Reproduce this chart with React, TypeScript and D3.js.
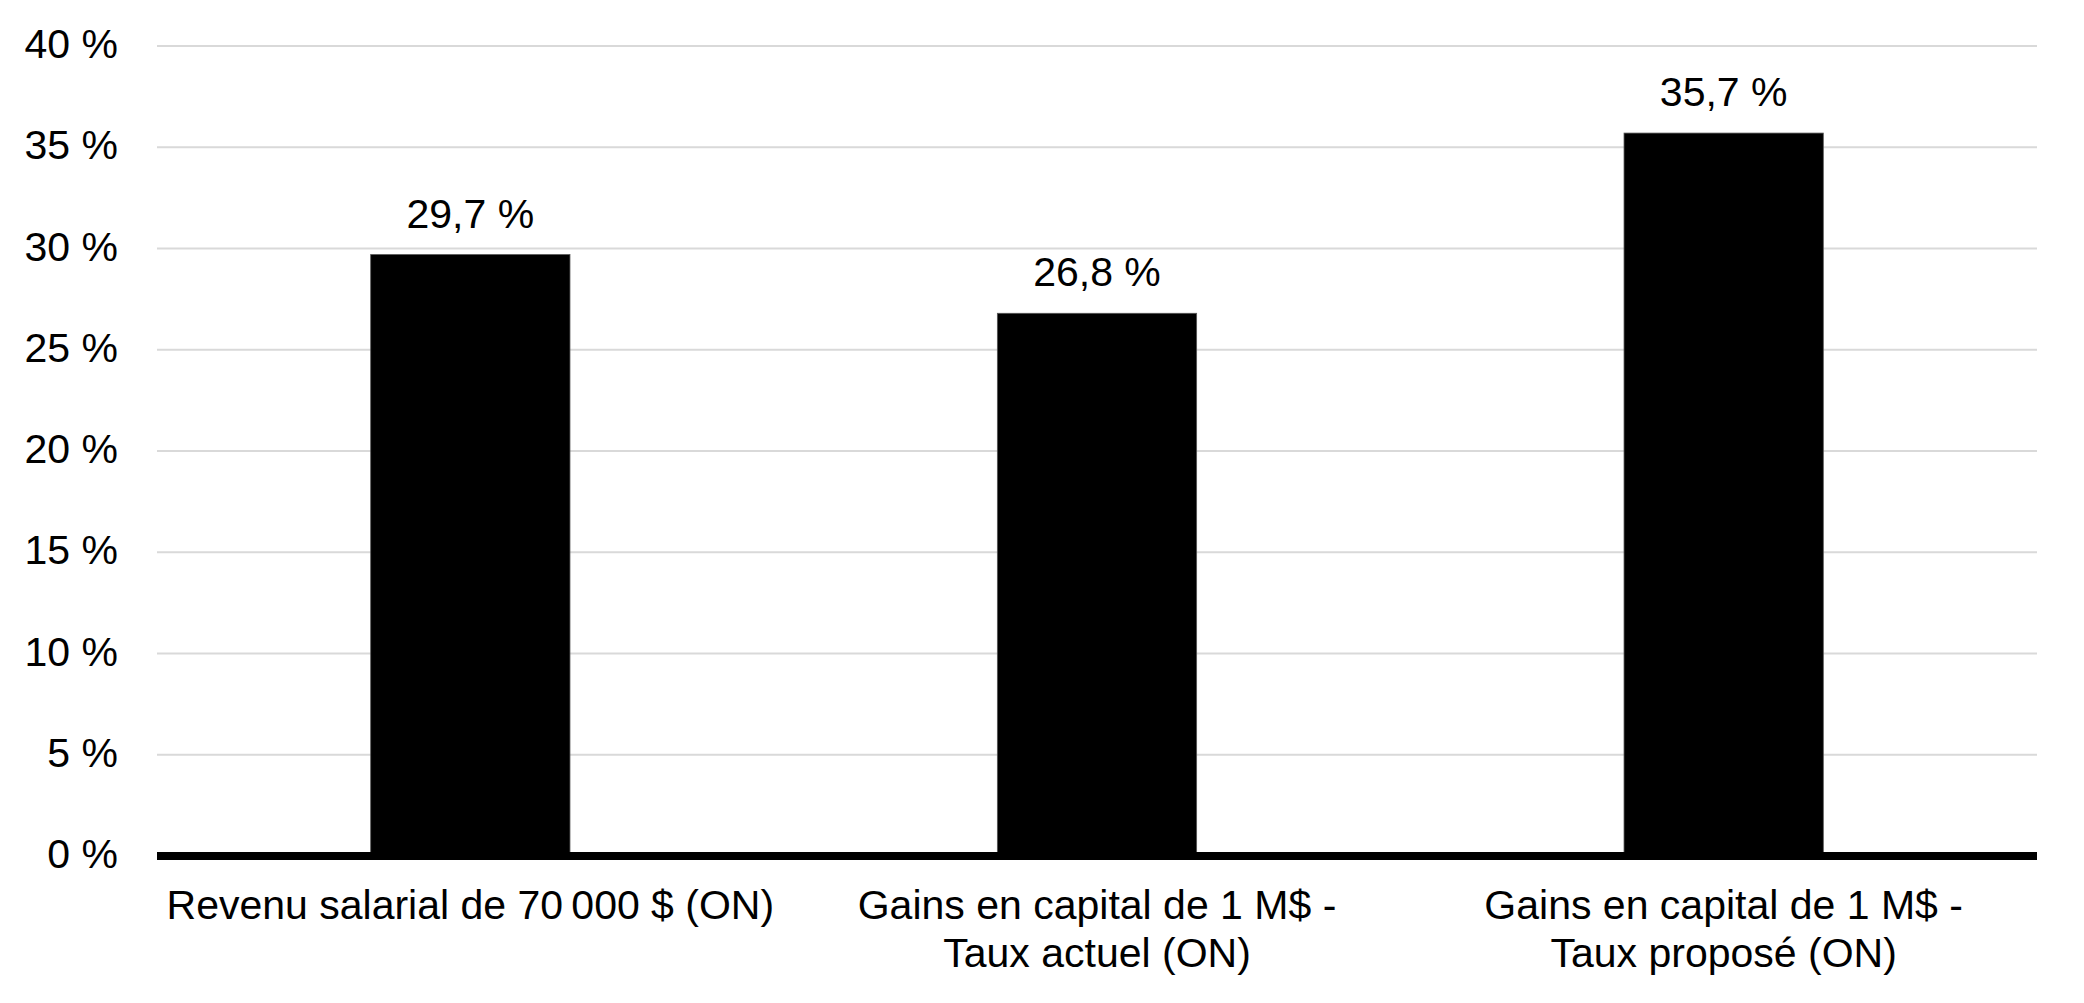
import React from 'react';
import * as d3 from 'd3';

const categories: string[][] = [
    ['Revenu salarial de 70\u202F000 $ (ON)'],
    ['Gains en capital de 1 M$ -', 'Taux actuel (ON)'],
    ['Gains en capital de 1 M$ -', 'Taux proposé (ON)'],
];
const rates: number[] = [29.7, 26.8, 35.7];
const yTicks: number[] = [0, 5, 10, 15, 20, 25, 30, 35, 40];

const width = 2084;
const height = 1003;
const left = 157;
const right = 2037;
const top = 46;
const bottom = 856;
const font = '"Liberation Sans", Arial, sans-serif';

const fmt = (v: number, digits: number) =>
    v.toFixed(digits).replace('.', ',') + ' %';

export default function App() {
    const keys = categories.map((_c, i) => String(i));

    const x = d3.scaleBand<string>()
        .domain(keys)
        .range([left, right])
        .paddingInner(0.682)
        .paddingOuter(0.341);

    const y = d3.scaleLinear()
        .domain([0, 40])
        .range([bottom, top]);

    return (
        <svg
            width={width}
            height={height}
            viewBox={`0 0 ${width} ${height}`}
            style={{ position: 'absolute', left: 0, top: 0, background: '#fff' }}
            fontFamily={font}
        >
            {/* grid + y labels */}
            {yTicks.map(t => (
                <g key={t}>
                    {t > 0 && (
                        <line x1={left} x2={right} y1={y(t)} y2={y(t)} stroke="#d9d9d9" strokeWidth={2} />
                    )}
                    <text x={118} y={y(t)} dy={12} textAnchor="end" fontSize={41} fill="#000">
                        {fmt(t, 0)}
                    </text>
                </g>
            ))}

            {/* bars */}
            {rates.map((v, i) => (
                <rect
                    key={i}
                    x={x(keys[i])!}
                    y={y(v)}
                    width={x.bandwidth()}
                    height={y(0) - y(v)}
                    fill="#000"
                    stroke="#555"
                    strokeWidth={0.8}
                />
            ))}

            {/* value labels */}
            {rates.map((v, i) => (
                <text
                    key={i}
                    x={x(keys[i])! + x.bandwidth() / 2}
                    y={y(v) - 27}
                    textAnchor="middle"
                    fontSize={41}
                    fill="#000"
                >
                    {fmt(v, 1)}
                </text>
            ))}

            {/* x axis line */}
            <line x1={left} x2={right} y1={y(0)} y2={y(0)} stroke="#000" strokeWidth={8} />

            {/* category labels */}
            {categories.map((lines, i) => (
                <text
                    key={i}
                    x={x(keys[i])! + x.bandwidth() / 2}
                    y={919}
                    textAnchor="middle"
                    fontSize={41}
                    fill="#000"
                >
                    {lines.map((l, j) => (
                        <tspan key={j} x={x(keys[i])! + x.bandwidth() / 2} dy={j === 0 ? 0 : 48}>
                            {l}
                        </tspan>
                    ))}
                </text>
            ))}
        </svg>
    );
}
